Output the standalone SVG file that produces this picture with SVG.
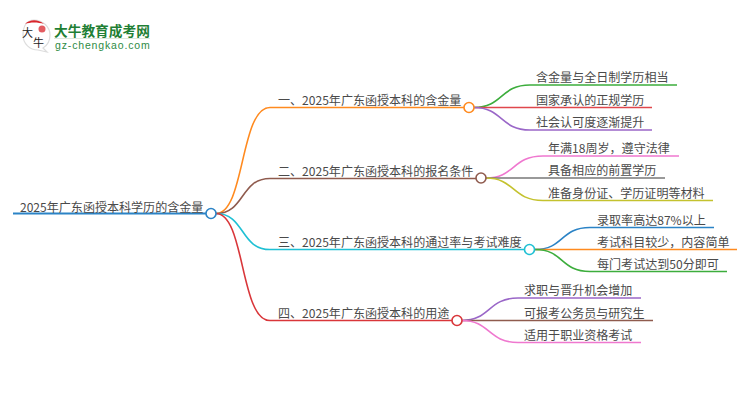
<svg xmlns="http://www.w3.org/2000/svg" width="750" height="410" viewBox="0 0 750 410">
<style>
text{font-family:"Noto Sans CJK SC","Liberation Sans",sans-serif;font-size:12.050px;fill:#4a4a4a}
.c{fill:none;stroke-width:1.6}
.n{fill:#fff;stroke-width:1.6}
</style>
<rect width="750" height="410" fill="#fff"/>
<g id="logo">
<path d="M34 20C26 20 23 27 23 35C23 44 30 50 38 50L47 52L43 48C48 45 50 40 50 35C50 27 43 20 34 20Z" fill="#fff" stroke="#ddd" stroke-width="1.2"/>
<path d="M25 24C30 19 38 19 44 24C38 22 30 22 25 24Z" fill="#d9262c"/>
<circle cx="42" cy="29" r="3.500" fill="#d9262c" opacity=".75"/>
<text x="22" y="37" style="font-size:11px;fill:#222">大</text>
<text x="33" y="47" style="font-size:11px;fill:#222">牛</text>
<text x="54" y="35.500" style="font-size:13.700px;font-weight:700;fill:#1f7f35">大牛教育成考网</text>
<rect x="54" y="38" width="96" height="1" fill="#dde8dd"/>
<text x="55" y="49" style="font-size:10.500px;fill:#2e8b45;font-family:'Liberation Sans',sans-serif;letter-spacing:.85px">gz-chengkao.com</text>
</g>
<g id="connectors">
<path class="c" stroke="#2b83c6" style="stroke-width:2.200" d="M13 213.500H206"/>
<path class="c" stroke="#ff8a1f" d="M216 213.500C245 213.500 240 107.500 270 107.500H464"/>
<path class="c" stroke="#8f5b4e" d="M216 213.500C245 213.500 240 178.500 270 178.500H476"/>
<path class="c" stroke="#1fc0d4" d="M216 213.500C245 213.500 240 249.500 270 249.500H525"/>
<path class="c" stroke="#d9363a" d="M216 213.500C245 213.500 240 320.500 270 320.500H452"/>
<path class="c" stroke="#3cad3c" d="M474 107.500C503 107.500 500 85 530 85H677"/>
<path class="c" stroke="#e0474c" d="M474 107.500H652"/>
<path class="c" stroke="#9a67c8" d="M474 107.500C503 107.500 500 130 530 130H652"/>
<path class="c" stroke="#ef78cf" d="M486 178C515 178 512 156 543 156H679"/>
<path class="c" stroke="#777" d="M486 178H665"/>
<path class="c" stroke="#c4c22e" d="M486 178C515 178 512 200.500 543 200.500H713"/>
<path class="c" stroke="#2b83c6" d="M535 249.500C564 249.500 560 227.500 590 227.500H714"/>
<path class="c" stroke="#ff8a1f" d="M535 249.500H737"/>
<path class="c" stroke="#3cad3c" d="M535 249.500C564 249.500 560 271.500 590 271.500H727"/>
<path class="c" stroke="#9a67c8" d="M462 320.500C490 320.500 488 298 518 298H641"/>
<path class="c" stroke="#8f5b4e" d="M462 320.500H653"/>
<path class="c" stroke="#ef78cf" d="M462 320.500C490 320.500 488 342.500 518 342.500H641"/>
</g>
<g id="root"><text x="20" y="211.500">2025年广东函授本科学历的含金量</text><circle class="n" cx="211" cy="213.500" r="5" stroke="#2b83c6"/></g>
<g id="b1"><text x="278" y="104.500">一、2025年广东函授本科的含金量</text><circle class="n" cx="469" cy="107.500" r="5" stroke="#ff8a1f"/></g>
<g id="b2"><text x="278" y="175.500">二、2025年广东函授本科的报名条件</text><circle class="n" cx="481" cy="178" r="5" stroke="#8f5b4e"/></g>
<g id="b3"><text x="278" y="246.500">三、2025年广东函授本科的通过率与考试难度</text><circle class="n" cx="529.500" cy="249.500" r="5" stroke="#1fc0d4"/></g>
<g id="b4"><text x="278" y="317.500">四、2025年广东函授本科的用途</text><circle class="n" cx="457" cy="320.500" r="5" stroke="#d9363a"/></g>
<g id="l11"><text x="536" y="82">含金量与全日制学历相当</text></g>
<g id="l12"><text x="536" y="104.500">国家承认的正规学历</text></g>
<g id="l13"><text x="536" y="127">社会认可度逐渐提升</text></g>
<g id="l21"><text x="548" y="153">年满18周岁，遵守法律</text></g>
<g id="l22"><text x="548" y="175">具备相应的前置学历</text></g>
<g id="l23"><text x="548" y="197.500">准备身份证、学历证明等材料</text></g>
<g id="l31"><text x="597" y="224.500">录取率高达87%以上</text></g>
<g id="l32"><text x="597" y="246.500">考试科目较少，内容简单</text></g>
<g id="l33"><text x="597" y="268.500">每门考试达到50分即可</text></g>
<g id="l41"><text x="524" y="295">求职与晋升机会增加</text></g>
<g id="l42"><text x="524" y="317.500">可报考公务员与研究生</text></g>
<g id="l43"><text x="524" y="339.500">适用于职业资格考试</text></g>
</svg>
